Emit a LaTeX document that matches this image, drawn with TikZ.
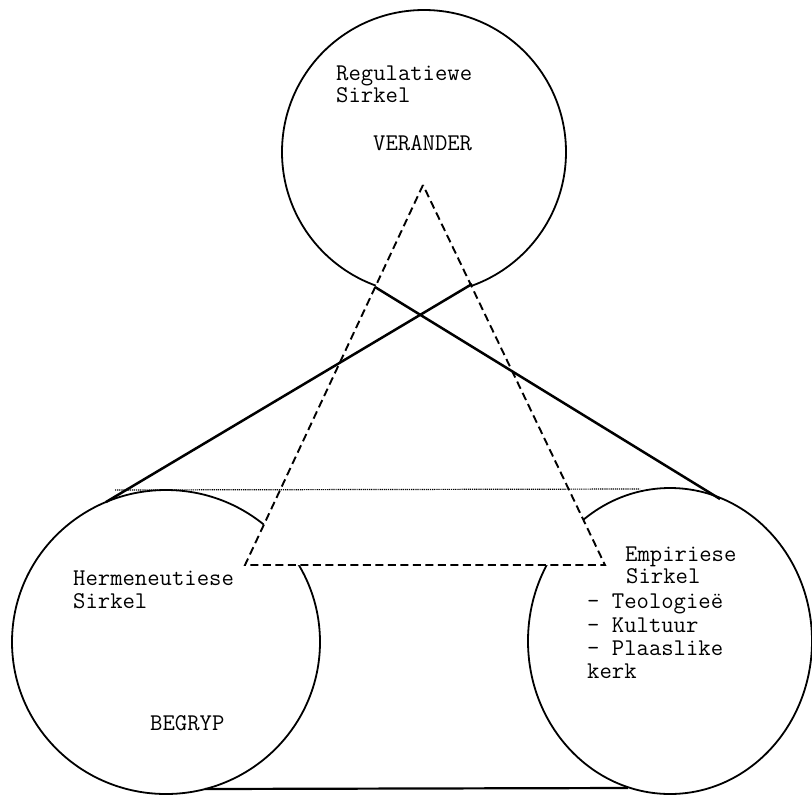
\documentclass[tikz,border=0pt]{standalone}
\usepackage{fontspec}
\setmonofont{Latin Modern Mono}
\usetikzlibrary{shapes.geometric}
\begin{document}
\begin{tikzpicture}[x=1pt,y=-1pt,
  ring/.style={draw, line width=1.8pt, ellipse, inner sep=0pt},
  solidline/.style={line width=2.5pt},
  dashline/.style={line width=1.9pt, dash pattern=on 8pt off 4.5pt},
  dotline/.style={line width=1.2pt, dash pattern=on 1.2pt off 0.9pt},
  lbl/.style={anchor=base west, inner sep=0pt, font=\ttfamily\fontsize{24}{24}\selectfont}]
\useasboundingbox (0,0) rectangle (812,796);
% circles
\node[ring, minimum width=284pt, minimum height=284pt] (reg) at (424,152) {};
\node[ring, minimum width=308pt, minimum height=304pt] (herm) at (166,642) {};
\node[ring, minimum width=284pt, minimum height=306pt] (emp) at (670,641) {};
% triangle corners
\coordinate (tA) at (423,185);
\coordinate (tL) at (245,565);
\coordinate (tR) at (605,565);
% mask circles inside triangle
\fill[white] (tA) -- (tL) -- (tR) -- cycle;
% connector points
\coordinate (rL) at (375,287);
\coordinate (rR) at (472,284);
\coordinate (hT) at (106,502);
\coordinate (eT) at (720,499);
\coordinate (dL) at (115,490);
\coordinate (dR) at (640,489);
\coordinate (bL) at (205,789);
\coordinate (bR) at (628,788);
\draw[solidline] (rR) -- (hT);
\draw[solidline] (rL) -- (eT);
\draw[line width=2.2pt] (bL) -- (bR);
\draw[dotline] (dL) -- (dR);
\draw[dashline] (tA) -- (tL) -- (tR) -- cycle;
% texts
\node[lbl] (t1) at (336,80) {Regulatiewe};
\node[lbl] (t2) at (336,102) {Sirkel};
\node[lbl] (t3) at (373,150) {VERANDER};
\node[lbl] (t4) at (73,585) {Hermeneutiese};
\node[lbl] (t5) at (73,608) {Sirkel};
\node[lbl] (t6) at (150,730) {BEGRYP};
\node[lbl] (t7) at (625,561) {Empiriese};
\node[lbl] (t8) at (626,583) {Sirkel};
\node[lbl] (t9) at (587,608) {- Teologieë};
\node[lbl] (t10) at (587,632) {- Kultuur};
\node[lbl] (t11) at (587,655) {- Plaaslike};
\node[lbl] (t12) at (587,678) {kerk};
\end{tikzpicture}
\end{document}
